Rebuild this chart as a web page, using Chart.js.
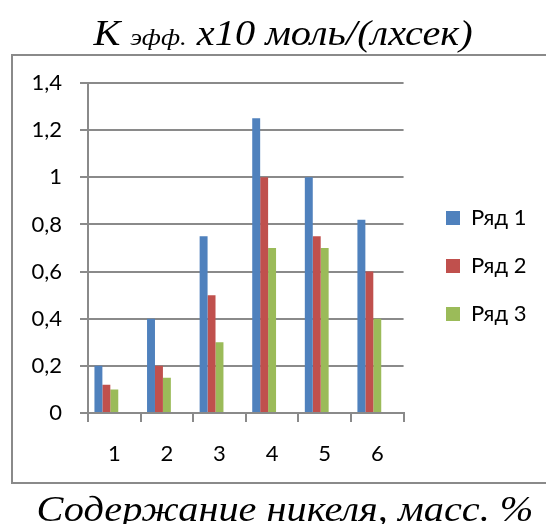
<!DOCTYPE html>
<html>
<head>
<meta charset="utf-8">
<script src="https://cdn.jsdelivr.net/npm/chart.js@4.4.0/dist/chart.umd.min.js"></script>
<style>
  html, body { margin: 0; padding: 0; background: #fff; }
</style>
</head>
<body>
<canvas id="chart" width="546" height="524"></canvas>
<script>
// data
const categories = ['1', '2', '3', '4', '5', '6'];
const row1 = [0.2, 0.4, 0.75, 1.25, 1.0, 0.82];
const row2 = [0.12, 0.2, 0.5, 1.0, 0.75, 0.6];
const row3 = [0.1, 0.15, 0.3, 0.7, 0.7, 0.4];
const seriesNames = ['Ряд 1', 'Ряд 2', 'Ряд 3'];
const seriesColors = ['#4F81BD', '#C0504D', '#9BBB59'];

const yTickMax = 1.4;
const yTickStep = 0.2;

const gridGray = '#8A8A8A';
const serif = '"Liberation Serif", "Times New Roman", serif';
const sans = 'Lato, "Open Sans", sans-serif';
const stretch = 1.12; // the original's serif titles are a bit wider than Liberation Serif

// frame box + titles (title has a subscript, so drawn by hand)
const framePlugin = {
  id: 'frame',
  afterLayout(chart) {
    // nudge the legend to where the original puts it
    const lg = chart.legend;
    const dx = 420 - lg.left, dy = -17;
    lg.left += dx; lg.right += dx;
    lg.top += dy; lg.bottom += dy;
  },
  beforeDraw(chart) {
    const ctx = chart.ctx;
    ctx.save();
    ctx.fillStyle = '#fff';
    ctx.fillRect(0, 0, chart.width, chart.height);
    ctx.strokeStyle = gridGray;
    ctx.lineWidth = 2;
    ctx.strokeRect(12, 55, 600, 428);
    ctx.restore();
  },
  afterDraw(chart) {
    const ctx = chart.ctx;
    ctx.save();
    ctx.fillStyle = '#000';
    ctx.textBaseline = 'alphabetic';

    const parts = [
      { t: 'K ', font: 'italic 36px ' + serif },
      { t: 'эфф.', font: 'italic 24px ' + serif },
      { t: ' x10 моль/(лхсек)', font: 'italic 36px ' + serif },
    ];
    let total = 0;
    parts.forEach(p => { ctx.font = p.font; p.w = ctx.measureText(p.t).width; total += p.w; });
    ctx.save();
    ctx.translate(283, 0);
    ctx.scale(stretch, 1);
    let x = -total / 2;
    parts.forEach(p => {
      ctx.font = p.font;
      ctx.fillText(p.t, x, 45);
      x += p.w;
    });
    ctx.restore();

    ctx.save();
    ctx.translate(285, 0);
    ctx.scale(stretch, 1);
    ctx.font = 'italic 36px ' + serif;
    ctx.textAlign = 'center';
    ctx.fillText('Содержание никеля, масс. %', 0, 521);
    ctx.restore();
    ctx.restore();
  }
};

const series = [row1, row2, row3];
const datasets = series.map((d, i) => ({
  label: seriesNames[i],
  data: d,
  backgroundColor: seriesColors[i],
  borderWidth: 0,
}));
// two empty slots so the group sits left of the category centre, as in the original
datasets.push({ label: '', data: categories.map(() => null) });
datasets.push({ label: '', data: categories.map(() => null) });

new Chart(document.getElementById('chart'), {
  type: 'bar',
  data: { labels: categories, datasets },
  options: {
    responsive: false,
    animation: false,
    categoryPercentage: 0.755,
    barPercentage: 1.0,
    layout: { padding: { left: 11, top: 83, right: 26, bottom: 41 } },
    plugins: {
      title: { display: false },
      tooltip: { enabled: false },
      legend: {
        position: 'right',
        labels: {
          color: '#000',
          font: { family: sans, size: 22 },
          boxWidth: 14,
          boxHeight: 14,
          padding: 26,
          filter: item => item.datasetIndex < 3,
        },
      },
    },
    scales: {
      x: {
        grid: {
          offset: true,
          drawOnChartArea: false,
          drawTicks: true,
          tickLength: 9,
          color: gridGray,
          lineWidth: 2,
        },
        border: { color: gridGray, width: 2 },
        ticks: { color: '#000', font: { family: sans, size: 22 }, padding: 19 },
        afterFit: s => { s.height = 70; },
      },
      y: {
        min: 0,
        max: yTickMax,
        grid: { color: gridGray, lineWidth: 2, tickLength: 8 },
        border: { color: gridGray, width: 2 },
        ticks: {
          stepSize: yTickStep,
          color: '#000',
          font: { family: sans, size: 22 },
          padding: 18,
          callback: v => String(Math.round(v * 10) / 10).replace('.', ','),
        },
        afterFit: s => { s.width = 77; },
      },
    },
  },
  plugins: [framePlugin],
});
</script>
</body>
</html>
